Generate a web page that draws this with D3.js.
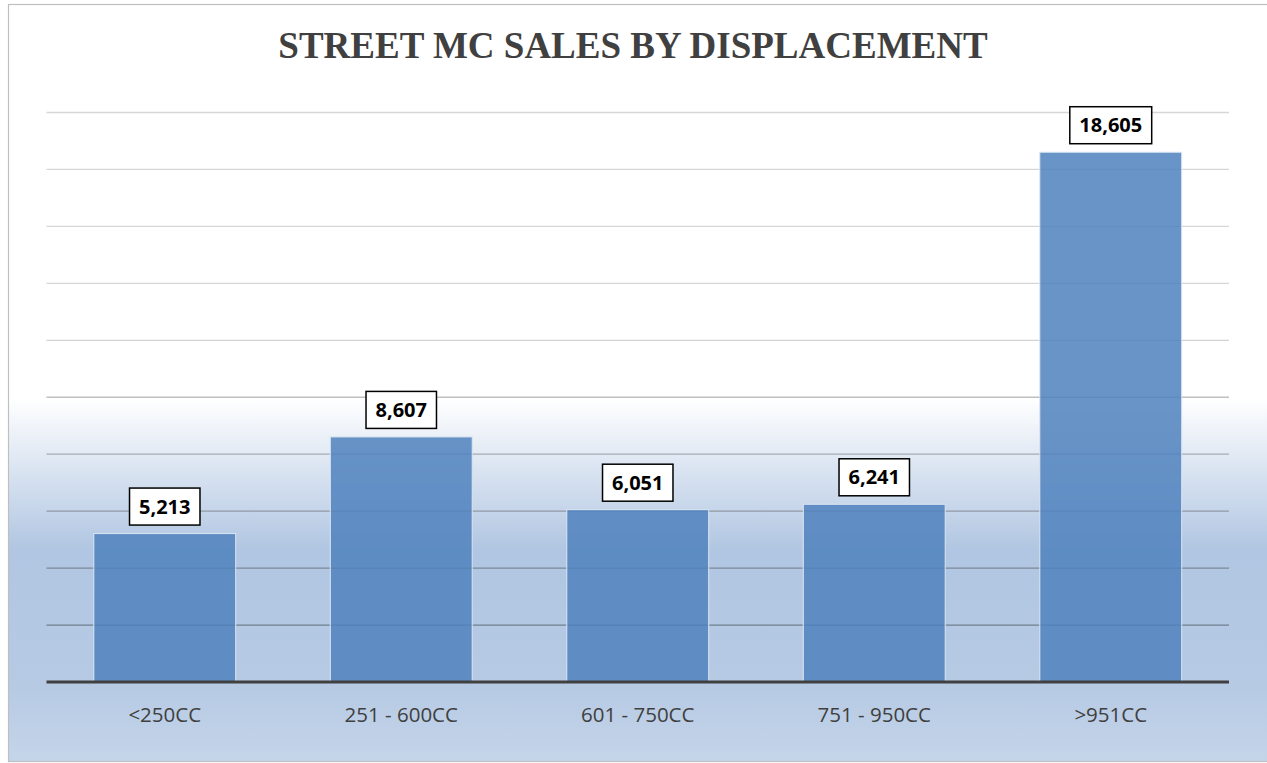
<!DOCTYPE html>
<html>
<head>
<meta charset="utf-8">
<script src="https://cdn.jsdelivr.net/npm/d3@7"></script>
<style>
  body { margin: 0; background: #fff; }
  svg { display: block; }
</style>
</head>
<body>
<svg id="chart" width="1267" height="763"></svg>
<script>
// street motorcycle sales, by engine size
var categories = ["<250CC", "251 - 600CC", "601 - 750CC", "751 - 950CC", ">951CC"];
var sales = [5213, 8607, 6051, 6241, 18605];
var yTicks = [0, 2000, 4000, 6000, 8000, 10000, 12000, 14000, 16000, 18000, 20000];

var svg = d3.select("#chart"),
    margin = {top: 112.5, left: 46.5, bottom: 81, right: 38},
    width = +svg.attr("width"),
    height = +svg.attr("height");

var defs = svg.append("defs");

// chart area background: white on top fading into light blue
var bg = defs.append("linearGradient").attr("id", "bgGrad")
    .attr("x1", 0).attr("y1", 0).attr("x2", 0).attr("y2", 1);
bg.append("stop").attr("offset", "0%").attr("stop-color", "#ffffff");
bg.append("stop").attr("offset", "52%").attr("stop-color", "#ffffff");
bg.append("stop").attr("offset", "72%").attr("stop-color", "#b1c6e2");
bg.append("stop").attr("offset", "90%").attr("stop-color", "#b6cae4");
bg.append("stop").attr("offset", "100%").attr("stop-color", "#c5d5e9");

// gridlines look darker where the background turns blue
var gg = defs.append("linearGradient").attr("id", "gridGrad")
    .attr("gradientUnits", "userSpaceOnUse")
    .attr("x1", 0).attr("y1", 330).attr("x2", 0).attr("y2", 600);
gg.append("stop").attr("offset", "0%").attr("stop-color", "#d6d6d6");
gg.append("stop").attr("offset", "45%").attr("stop-color", "#a9acb1");
gg.append("stop").attr("offset", "100%").attr("stop-color", "#6f7f8f");

svg.append("rect")
    .attr("x", 8.5).attr("y", 4.5)
    .attr("width", 1270).attr("height", 757)
    .attr("fill", "url(#bgGrad)")
    .attr("stroke", "#bfbfbf").attr("stroke-width", 1.2);

var x = d3.scaleBand()
    .domain(categories)
    .range([margin.left, width - margin.right])
    .paddingInner(0.4)
    .paddingOuter(0.2);

var y = d3.scaleLinear()
    .domain([0, 20000])
    .range([height - margin.bottom, margin.top]);

// title
svg.append("text")
    .attr("x", 633).attr("y", 58)
    .attr("text-anchor", "middle")
    .attr("font-family", "Liberation Serif, Times New Roman, serif")
    .attr("font-weight", "bold")
    .attr("font-size", 37)
    .attr("fill", "#404040")
    .text("STREET MC SALES BY DISPLACEMENT");

// horizontal gridlines
svg.append("g").attr("class", "grid")
    .selectAll("line")
    .data(yTicks.slice(1))
    .enter().append("line")
    .attr("x1", margin.left).attr("x2", width - margin.right)
    .attr("y1", d => y(d)).attr("y2", d => y(d))
    .attr("stroke", "url(#gridGrad)")
    .attr("stroke-width", 1.3);

// bars
svg.append("g").attr("class", "bars")
    .selectAll("rect")
    .data(sales)
    .enter().append("rect")
    .attr("x", (d, i) => x(categories[i]))
    .attr("y", d => y(d))
    .attr("width", x.bandwidth())
    .attr("height", d => y(0) - y(d))
    .attr("fill", "#4f81bd")
    .attr("fill-opacity", 0.85)
    .attr("stroke", "#dce6f2")
    .attr("stroke-width", 1);

// x axis
var xAxis = svg.append("g")
    .attr("transform", `translate(0,${y(0)})`)
    .call(d3.axisBottom(x).tickSize(0).tickPadding(25));
xAxis.select(".domain").remove();
xAxis.selectAll("text")
    .attr("font-family", "Open Sans, sans-serif")
    .attr("font-size", 20.5)
    .attr("fill", "#404040");

svg.append("line")
    .attr("x1", margin.left).attr("x2", width - margin.right)
    .attr("y1", y(0)).attr("y2", y(0))
    .attr("stroke", "#404040")
    .attr("stroke-width", 3);

// value labels in boxes
var fmt = d3.format(",");
var labels = svg.append("g").attr("class", "labels")
    .selectAll("g")
    .data(sales)
    .enter().append("g")
    .attr("transform", (d, i) => `translate(${x(categories[i]) + x.bandwidth() / 2},${y(d) - 27})`);

labels.append("text")
    .attr("text-anchor", "middle")
    .attr("dy", "0.35em")
    .attr("font-family", "Open Sans, sans-serif")
    .attr("font-weight", "bold")
    .attr("font-size", 20)
    .attr("fill", "#000")
    .text(d => fmt(d));

labels.each(function() {
    var g = d3.select(this);
    var w = g.select("text").node().getComputedTextLength();
    g.insert("rect", "text")
        .attr("x", -w / 2 - 9.5).attr("y", -18.5)
        .attr("width", w + 19).attr("height", 37)
        .attr("fill", "#fff")
        .attr("stroke", "#000")
        .attr("stroke-width", 1.5);
});
</script>
</body>
</html>
